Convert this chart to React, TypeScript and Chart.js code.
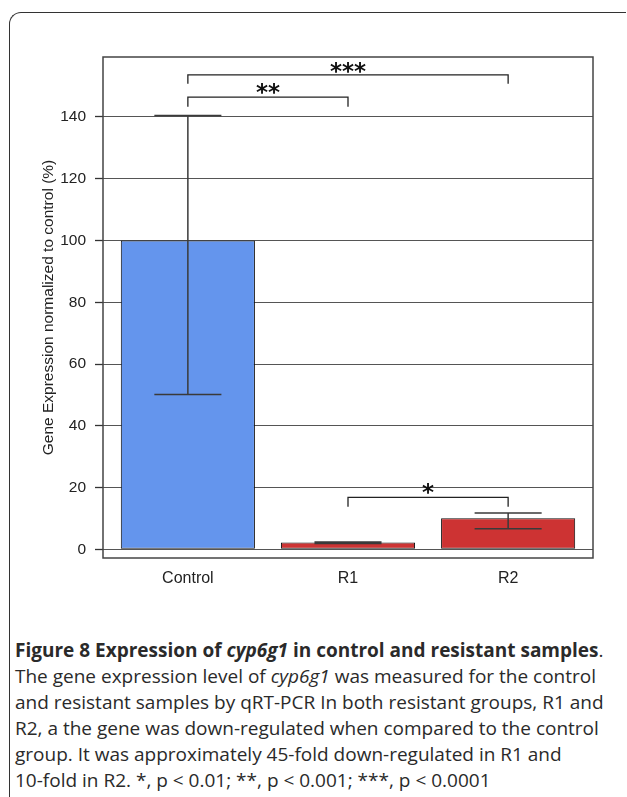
import React, { useEffect, useRef } from "react";
import { Chart, registerables } from "chart.js";

Chart.register(...registerables);

// ---- data ----
const categories = ["Control", "R1", "R2"];
const expression = [100, 2.2, 10.1];
const errLower = [50.1, 1.9, 6.7];
const errUpper = [140.5, 2.4, 11.8];
const barColors = ["#6495ED", "#CD3333", "#CD3333"];
const yTicks = [0, 20, 40, 60, 80, 100, 120, 140];
const yMin = -2.8;
const yMax = 159.4;

// significance brackets
const bracketFrom = [0, 0, 1];
const bracketTo = [1, 2, 2];
const bracketLevel = [146.4, 153.6, 16.8];
const bracketTip = [143.3, 150.7, 13.8];
const bracketLabel = ["**", "***", "*"];
const starLevel = [149.4, 156.2, 19.9];

const yTitle = "Gene Expression normalized to control (%)";

const overlayPlugin = {
  id: "overlay",
  afterDatasetsDraw(chart: any) {
    const { ctx, chartArea, scales } = chart;
    const y = scales.y;
    const meta = chart.getDatasetMeta(0);
    ctx.save();
    // error bars
    meta.data.forEach((bar: any, i: number) => {
      const cx = bar.x;
      const half = bar.width / 4;
      const yl = y.getPixelForValue(errLower[i]);
      const yh = y.getPixelForValue(errUpper[i]);
      ctx.strokeStyle = "#3a3a3a";
      ctx.lineWidth = 1.5;
      ctx.beginPath();
      ctx.moveTo(cx, yl);
      ctx.lineTo(cx, yh);
      ctx.moveTo(cx - half, yl);
      ctx.lineTo(cx + half, yl);
      ctx.moveTo(cx - half, yh);
      ctx.lineTo(cx + half, yh);
      ctx.stroke();
    });
    // brackets
    bracketFrom.forEach((f, i) => {
      const x1 = meta.data[f].x;
      const x2 = meta.data[bracketTo[i]].x;
      const yl = y.getPixelForValue(bracketLevel[i]);
      const yt = y.getPixelForValue(bracketTip[i]);
      ctx.strokeStyle = "#222";
      ctx.lineWidth = 1.3;
      ctx.beginPath();
      ctx.moveTo(x1, yt);
      ctx.lineTo(x1, yl);
      ctx.lineTo(x2, yl);
      ctx.lineTo(x2, yt);
      ctx.stroke();
      ctx.fillStyle = "#111";
      ctx.font = "bold 23px 'DejaVu Sans'";
      ctx.textAlign = "center";
      ctx.textBaseline = "alphabetic";
      ctx.fillText(bracketLabel[i], (x1 + x2) / 2, y.getPixelForValue(starLevel[i]) + 12);
    });
    // plot box
    ctx.strokeStyle = "#444";
    ctx.lineWidth = 1.5;
    ctx.strokeRect(
      chartArea.left,
      chartArea.top,
      chartArea.right - chartArea.left,
      chartArea.bottom - chartArea.top
    );
    ctx.restore();
  },
};

function BarChart() {
  const ref = useRef<HTMLCanvasElement>(null);
  useEffect(() => {
    if (!ref.current) return;
    const chart = new Chart(ref.current, {
      type: "bar",
      data: {
        datasets: [
          {
            data: expression.map((v, i) => ({ x: i, y: v })),
            backgroundColor: barColors,
            borderColor: "#111",
            borderWidth: 1,
            borderSkipped: false,
            barPercentage: 1,
            categoryPercentage: 0.8375,
          },
        ],
      },
      options: {
        animation: false,
        responsive: false,
        devicePixelRatio: 1,
        layout: { padding: { top: 57, right: 34, left: 0, bottom: 0 } },
        plugins: {
          legend: { display: false },
          tooltip: { enabled: false },
        },
        scales: {
          x: {
            type: "linear",
            min: -0.53,
            max: 2.53,
            offset: false,
            grid: { display: false, drawTicks: false },
            border: { display: false },
            afterBuildTicks: (scale: any) => {
              scale.ticks = categories.map((_, i) => ({ value: i }));
            },
            afterFit: (scale: any) => {
              scale.height = 42;
            },
            ticks: {
              autoSkip: false,
              maxRotation: 0,
              padding: 11,
              color: "#222",
              font: { family: "'Liberation Sans', Arial", size: 16 },
              callback: (v: any) => categories[Math.round(v)] ?? "",
            },
          },
          y: {
            type: "linear",
            min: yMin,
            max: yMax,
            afterBuildTicks: (scale: any) => {
              scale.ticks = yTicks.map((v) => ({ value: v }));
            },
            afterFit: (scale: any) => {
              scale.width = 103;
            },
            border: { display: false },
            grid: {
              color: "#555",
              lineWidth: 1,
              borderDash: [1.5, 3],
              tickLength: 8,
              tickColor: "#333",
              tickWidth: 1.3,
              tickBorderDash: [],
            },
            ticks: {
              padding: 9,
              color: "#222",
              font: { family: "'Liberation Sans', Arial", size: 15.5 },
            },
            title: {
              display: true,
              text: yTitle,
              color: "#222",
              padding: { top: 39, bottom: 0 },
              font: { family: "'Liberation Sans', Arial", size: 15.5 },
            },
          },
        },
      },
      plugins: [overlayPlugin],
    } as any);
    return () => chart.destroy();
  }, []);
  return (
    <canvas
      ref={ref}
      width={627}
      height={600}
      style={{ position: "absolute", left: 0, top: 0, width: 627, height: 600 }}
    />
  );
}

const captionStyle: React.CSSProperties = {
  position: "absolute",
  left: 15,
  top: 637,
  fontFamily: "'Open Sans', sans-serif",
  fontSize: 19,
  lineHeight: "26px",
  color: "#2a2a2a",
  whiteSpace: "nowrap",
};

export default function App() {
  return (
    <div
      style={{
        position: "absolute",
        left: 0,
        top: 0,
        width: 627,
        height: 797,
        overflow: "hidden",
        background: "#fff",
      }}
    >
      <div
        style={{
          position: "absolute",
          left: 9,
          top: 12,
          width: 616,
          height: 820,
          borderLeft: "1.5px solid #333",
          borderTop: "1.5px solid #333",
          borderTopLeftRadius: 12,
        }}
      />
      <BarChart />
      <div style={captionStyle}>
        <div>
          <b>
            Figure 8 Expression of <i>cyp6g1</i> in control and resistant samples
          </b>
          .
        </div>
        <div>
          The gene expression level of <i>cyp6g1</i> was measured for the control
        </div>
        <div>and resistant samples by qRT-PCR In both resistant groups, R1 and</div>
        <div>R2, a the gene was down-regulated when compared to the control</div>
        <div>group. It was approximately 45-fold down-regulated in R1 and</div>
        <div>10-fold in R2. *, p &lt; 0.01; **, p &lt; 0.001; ***, p &lt; 0.0001</div>
      </div>
    </div>
  );
}
